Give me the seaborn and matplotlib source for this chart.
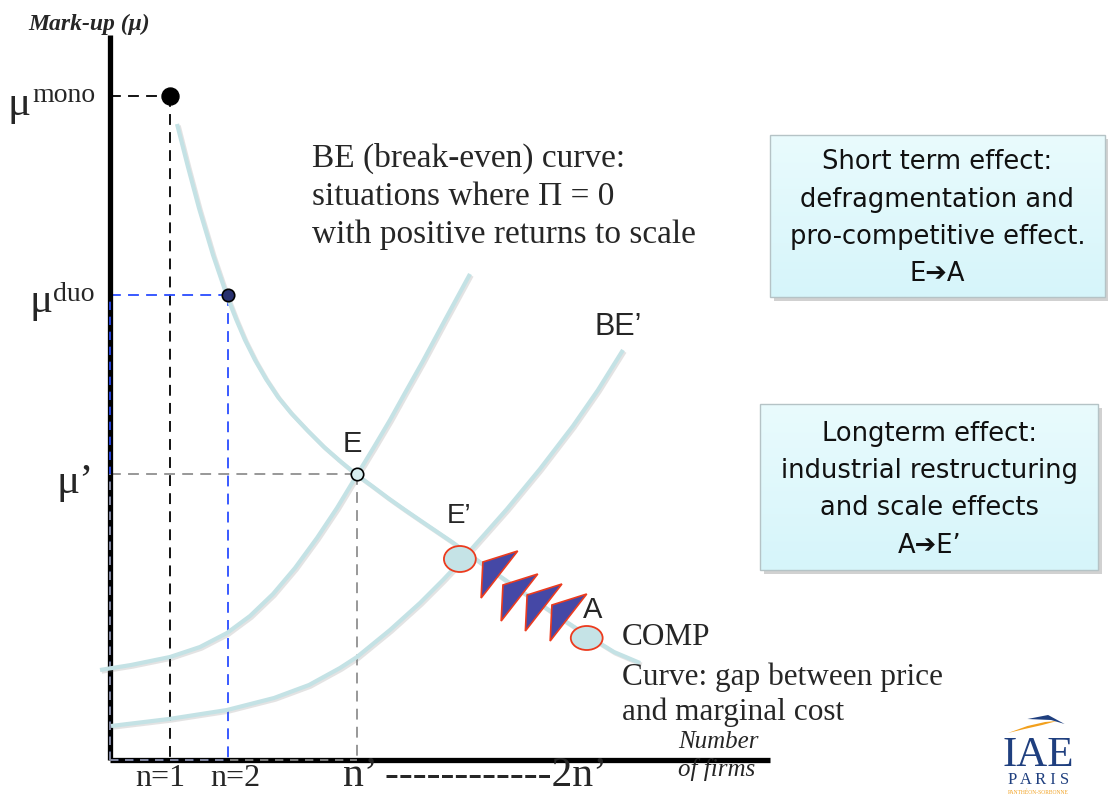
import matplotlib
matplotlib.use("Agg")
import matplotlib.pyplot as plt
import matplotlib.patheffects as pe
from matplotlib.patches import Ellipse, Polygon, Rectangle
import seaborn as sns
import numpy as np

# ---------------- data (number of firms n, mark-up mu) ----------------
comp_n  = [1.136, 1.322, 1.508, 1.746, 1.983, 2.136, 2.288, 2.458, 2.644, 2.847,
           3.068, 3.339, 3.627, 3.898, 4.186, 4.441, 4.712, 5.000, 5.322, 5.797,
           6.407, 7.017, 7.610, 8.102, 8.542, 8.983]
comp_mu = [6.36, 5.93, 5.52, 5.05, 4.64, 4.41, 4.20, 4.00, 3.81, 3.63,
           3.47, 3.30, 3.13, 2.99, 2.85, 2.74, 2.62, 2.50, 2.37, 2.18,
           1.92, 1.67, 1.43, 1.24, 1.08, 0.97]

be_n  = [-0.169, 0.356, 1.017, 1.525, 1.983, 2.373, 2.763, 3.136, 3.508, 3.847,
         4.186, 4.475, 4.746, 5.000, 5.305, 5.678, 6.102]
be_mu = [0.90, 0.95, 1.03, 1.13, 1.27, 1.44, 1.66, 1.92, 2.22, 2.52,
         2.85, 3.13, 3.40, 3.67, 3.99, 4.40, 4.86]

be2_n  = [0.017, 1.000, 1.983, 2.780, 3.373, 3.898, 4.186, 4.746, 5.254, 5.644,
          5.932, 6.339, 6.729, 7.288, 7.847, 8.271, 8.695]
be2_mu = [0.34, 0.41, 0.50, 0.62, 0.75, 0.92, 1.03, 1.30, 1.57, 1.80,
          1.98, 2.25, 2.51, 2.91, 3.34, 3.70, 4.10]

# key points: monopoly, duopoly, E
pt_n  = [1.02, 2.00, 4.19]
pt_mu = [6.64, 4.65, 2.86]

# E' and A (ellipses)
ell_n  = [5.93, 8.08]
ell_mu = [2.01, 1.22]

# arrow heads from A towards E'
arr_n  = [6.32, 6.66, 7.07, 7.49]
arr_mu = [1.98, 1.75, 1.65, 1.55]

x_axis_end = 11.19
y_axis_end = 7.25

box1_lines = ["Short term effect:", "defragmentation and", "pro-competitive effect.", "E\u2794A"]
box2_lines = ["Longterm effect:", "industrial restructuring", "and scale effects", "A\u2794E\u2019"]
be_lines = ["BE (break-even) curve:", "situations where \u03a0 = 0", "with positive returns to scale"]
comp_lines = ["COMP", "Curve: gap between price", "and marginal cost"]

# ---------------- figure ----------------
sns.set_theme(style="white")
plt.rcParams["font.family"] = ["Liberation Serif", "DejaVu Sans"]

fig = plt.figure(figsize=(11.12, 7.94), dpi=100)
ax = fig.add_axes([0, 0, 1, 1])
ax.axis("off")

curve_col = "#c4e2e5"
shadow = [pe.SimpleLineShadow(offset=(1.2, -1.2), alpha=0.2, shadow_color="#777777"), pe.Normal()]

# dashed guide lines
guide_cols = ["black", "#2a4cff", "#909090"]
for n, mu, c in zip(pt_n, pt_mu, guide_cols):
    ax.plot([0, n], [mu, mu], color=c, lw=1.3, dashes=(6, 4), zorder=2)
    ax.plot([n, n], [mu, 0], color=c, lw=1.3, dashes=(6, 4), zorder=2)

# axes
ax.plot([0, 0], [0, y_axis_end], color="black", lw=3.8, solid_capstyle="butt", zorder=3)
ax.plot([0, x_axis_end], [0, 0], color="black", lw=3.8, solid_capstyle="butt", zorder=3)
for n, mu, c in zip(pt_n[1:], pt_mu[1:], guide_cols[1:]):
    ax.plot([0, 0], [0, mu], color=c, lw=1.2, dashes=(5, 4), zorder=4)
    ax.plot([0, n], [0, 0], color=c, lw=1.2, dashes=(5, 4), zorder=4)

# curves
for xs, ys in [(comp_n, comp_mu), (be_n, be_mu), (be2_n, be2_mu)]:
    sns.lineplot(x=xs, y=ys, sort=False, estimator=None, ax=ax, color=curve_col, lw=3.0, zorder=5)
    ax.lines[-1].set_path_effects(shadow)
    ax.lines[-1].set_solid_capstyle("butt")
    ax.lines[-1].set_solid_joinstyle("round")

# key points
sns.scatterplot(x=pt_n[:1], y=pt_mu[:1], ax=ax, s=150, color="black", edgecolor="black", zorder=7)
sns.scatterplot(x=pt_n[1:2], y=pt_mu[1:2], ax=ax, s=80, color="#28306e", edgecolor="black", linewidth=1.2, zorder=7)
sns.scatterplot(x=pt_n[2:], y=pt_mu[2:], ax=ax, s=80, color="#d8eef0", edgecolor="black", linewidth=1.2, zorder=7)

# ellipses E' and A
for n, mu, h in zip(ell_n, ell_mu, [0.26, 0.24]):
    ax.add_patch(Ellipse((n, mu), 0.54, h, facecolor="#c5e3e6", edgecolor="#ec3b1e", lw=1.3, zorder=8))

# arrow heads
for n, mu in zip(arr_n, arr_mu):
    tri = [(n, mu), (n + 0.59, mu + 0.11), (n - 0.03, mu - 0.36)]
    ax.add_patch(Polygon(tri, closed=True, facecolor="#4548a6", edgecolor="#ec3b1e", lw=1.2, zorder=8))

# ---------------- text ----------------
ax.text(-1.39, 7.30, "Mark-up (\u03bc)", fontsize=17, fontweight="bold", fontstyle="italic", zorder=9)

ax.text(-1.74, 6.45, "\u03bc", fontsize=31, zorder=9)
ax.text(-1.32, 6.58, "mono", fontsize=20, zorder=9)
ax.text(-1.37, 4.48, "\u03bc", fontsize=31, zorder=9)
ax.text(-0.97, 4.59, "duo", fontsize=20, zorder=9)
ax.text(-0.91, 2.67, "\u03bc\u2019", fontsize=31, zorder=9)

for txt, y in zip(be_lines, [5.93, 5.55, 5.17]):
    ax.text(3.42, y, txt, fontsize=24, zorder=9)
for txt, y in zip(comp_lines, [1.15, 0.75, 0.40]):
    ax.text(8.68, y, txt, fontsize=22.5, zorder=9)

sans = ["Liberation Sans", "DejaVu Sans"]
ax.text(8.22, 4.25, "BE\u2019", fontsize=22, family=sans, zorder=9)
ax.text(3.95, 3.08, "E", fontsize=21, family=sans, zorder=9)
ax.text(5.71, 2.37, "E\u2019", fontsize=20, family=sans, zorder=9)
ax.text(8.02, 1.42, "A", fontsize=21, family=sans, zorder=9)

ax.text(9.63, 0.12, "Number", fontsize=18, fontstyle="italic", zorder=9)
ax.text(9.63, -0.16, "of firms", fontsize=18, fontstyle="italic", zorder=9)

ax.text(0.85, -0.265, "n=1", fontsize=23, ha="center", zorder=9)
ax.text(2.12, -0.265, "n=2", fontsize=23, ha="center", zorder=9)
ax.text(3.95, -0.255, "n\u2019 ------------2n\u2019", fontsize=30, zorder=9)

# ---------------- boxes ----------------
box_font = ["DejaVu Sans"]
def box(x0, y0, x1, y1, lines, ys):
    ax.add_patch(Rectangle((x0 + 0.06, y0 - 0.04), x1 - x0, y1 - y0, facecolor="#9a9a9a",
                           alpha=0.45, edgecolor="none", zorder=8))
    grad = np.linspace(0, 1, 64).reshape(-1, 1)
    ax.imshow(grad, extent=(x0, x1, y0, y1), cmap=matplotlib.colors.LinearSegmentedColormap.from_list(
        "g", ["#d6f5fa", "#e9fbfd"]), aspect="auto", origin="lower", zorder=8.5)
    ax.add_patch(Rectangle((x0, y0), x1 - x0, y1 - y0, facecolor="none", edgecolor="#b5c3c6", lw=1.0, zorder=8.6))
    xc = (x0 + x1) / 2
    for t, y in zip(lines, ys):
        ax.text(xc, y, t, fontsize=18.5, family=box_font, ha="center", color="#111111", zorder=9)

box(11.19, 4.63, 16.86, 6.25, box1_lines, [5.91, 5.53, 5.16, 4.79])
box(11.02, 1.90, 16.75, 3.56, box2_lines, [3.19, 2.82, 2.45, 2.07])

ax.set_xlim(-110 / 59, (1112 - 110) / 59)
ax.set_ylim(-34 / 100, 760 / 100)

# ---------------- logo ----------------
navy = "#1f3f7f"
orange = "#f2a01d"
ax.text(15.73, -0.06, "IAE", fontsize=31, color=navy, ha="center", zorder=9)
ax.text(15.73, -0.245, "P A R I S", fontsize=12, color=navy, ha="center", zorder=9)
ax.text(15.73, -0.335, "PANTH\u00c9ON-SORBONNE", fontsize=4, color=orange, ha="center", zorder=9)
sw_x = np.array([15.22, 15.55, 15.85, 16.05, 15.80, 15.50, 15.22])
sw_y = np.array([0.27, 0.34, 0.38, 0.39, 0.35, 0.31, 0.27])
ax.add_patch(Polygon(np.column_stack([sw_x, sw_y]), closed=True, facecolor=orange, edgecolor="none", zorder=9))
ax.add_patch(Polygon([(15.55, 0.41), (15.90, 0.45), (16.18, 0.36), (15.95, 0.40)], closed=True,
                     facecolor=navy, edgecolor="none", zorder=9))

fig.savefig("out.png", dpi=100)
